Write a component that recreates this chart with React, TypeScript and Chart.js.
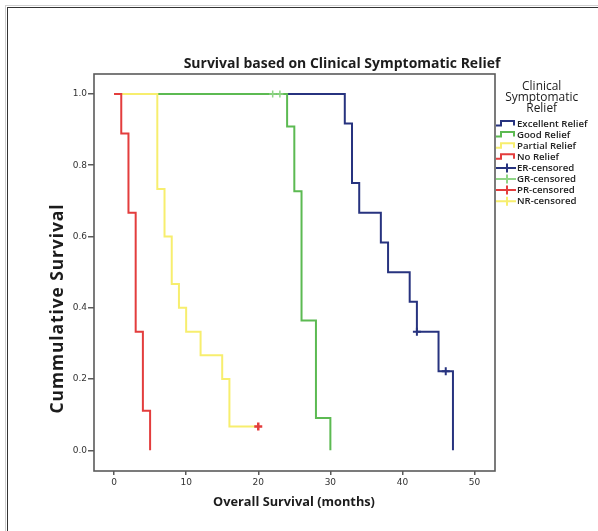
import React, { useEffect, useRef } from "react";
import { Chart, registerables } from "chart.js";

Chart.register(...registerables);

// ---- Data ----
const chartTitle = "Survival based on Clinical Symptomatic Relief";
const xTitle = "Overall Survival (months)";
const yTitle = "Cummulative Survival";
const legendTitle = ["Clinical", "Symptomatic", "Relief"];

const xTicks = [0, 10, 20, 30, 40, 50];
const yTicks = [0, 0.2, 0.4, 0.6, 0.8, 1.0];

const excellentTimes = [0, 32, 33, 34, 37, 38, 41, 42, 45, 47];
const excellentSurv = [1, 0.917, 0.75, 0.667, 0.583, 0.5, 0.417, 0.333, 0.222, 0];
const goodTimes = [0, 24, 25, 26, 28, 30];
const goodSurv = [1, 0.909, 0.727, 0.364, 0.091, 0];
const partialTimes = [0, 6, 7, 8, 9, 10, 12, 15, 16, 20];
const partialSurv = [1, 0.733, 0.6, 0.467, 0.4, 0.333, 0.267, 0.2, 0.067, 0.067];
const noTimes = [0, 1, 2, 3, 4, 5];
const noSurv = [1, 0.889, 0.667, 0.333, 0.111, 0];

const erCensTimes = [42, 46];
const erCensSurv = [0.333, 0.222];
const grCensTimes = [22, 23];
const grCensSurv = [1, 1];
const prCensTimes = [20];
const prCensSurv = [0.067];
const nrCensTimes: number[] = [];
const nrCensSurv: number[] = [];

const legendLabels = [
  "Excellent Relief",
  "Good Relief",
  "Partial Relief",
  "No Relief",
  "ER-censored",
  "GR-censored",
  "PR-censored",
  "NR-censored",
];

// ---- Styles ----
const NAVY = "#27337f";
const GREEN = "#5cba52";
const YELLOW = "#f7ee6e";
const RED = "#e33d3d";
const LIGHTGREEN = "#8fd486";
const legendColors = [NAVY, GREEN, YELLOW, RED, NAVY, LIGHTGREEN, RED, YELLOW];
const FONT = "'Open Sans', sans-serif";

const pts = (t: number[], s: number[]) => t.map((x, i) => ({ x, y: s[i] }));

function fitSize(ctx: CanvasRenderingContext2D, text: string, weight: string, target: number) {
  ctx.font = `${weight} 100px ${FONT}`;
  const w = ctx.measureText(text).width;
  return (100 * target) / w;
}

const decor = {
  id: "decor",
  beforeDraw(chart: any) {
    const ctx = chart.ctx as CanvasRenderingContext2D;
    ctx.save();
    ctx.fillStyle = "#fff";
    ctx.fillRect(0, 0, chart.width, chart.height);
    ctx.strokeStyle = "#cfcfcf";
    ctx.lineWidth = 1;
    ctx.strokeRect(5.5, 5.5, 900, 900);
    ctx.strokeStyle = "#333";
    ctx.strokeRect(7.5, 7.5, 900, 900);
    ctx.restore();
  },
  beforeDatasetsDraw(chart: any) {
    const ctx = chart.ctx as CanvasRenderingContext2D;
    const a = chart.chartArea;
    ctx.save();
    ctx.strokeStyle = "#5a5a5a";
    ctx.lineWidth = 1.6;
    ctx.strokeRect(a.left, a.top, a.right - a.left, a.bottom - a.top);
    ctx.restore();
  },
  afterDraw(chart: any) {
    const ctx = chart.ctx as CanvasRenderingContext2D;
    ctx.save();
    ctx.fillStyle = "#1c1c1c";
    // main title
    let s = fitSize(ctx, chartTitle, "bold", 317);
    ctx.font = `bold ${s}px ${FONT}`;
    ctx.textAlign = "center";
    ctx.textBaseline = "alphabetic";
    ctx.fillText(chartTitle, 342, 67.5);
    // x title
    s = fitSize(ctx, xTitle, "bold", 162);
    ctx.font = `bold ${s}px ${FONT}`;
    ctx.fillText(xTitle, 294, 506);
    // y title
    const ys = fitSize(ctx, yTitle, "bold", 192);
    ctx.font = `bold ${ys}px ${FONT}`;
    const baseW = ctx.measureText(yTitle).width;
    const spacing = Math.max(0, (209 - baseW) / (yTitle.length - 1));
    ctx.save();
    (ctx as any).letterSpacing = `${spacing}px`;
    ctx.translate(63, 413.5);
    ctx.rotate(-Math.PI / 2);
    ctx.textAlign = "left";
    ctx.fillText(yTitle, 0, 0);
    (ctx as any).letterSpacing = "0px";
    ctx.restore();
    // legend title
    s = fitSize(ctx, legendTitle[1], "normal", 73);
    ctx.font = `normal ${s}px ${FONT}`;
    ctx.textAlign = "center";
    legendTitle.forEach((t, i) => ctx.fillText(t, 541.7, 89.5 + i * 11.2));
    // legend items
    const ls = fitSize(ctx, legendLabels[0], "600", 70.6);
    ctx.font = `600 ${ls}px ${FONT}`;
    ctx.textAlign = "left";
    ctx.textBaseline = "middle";
    legendLabels.forEach((lab, i) => {
      const y = 123.5 + i * 11.1;
      ctx.strokeStyle = legendColors[i];
      ctx.lineWidth = 2;
      ctx.beginPath();
      if (i < 4) {
        ctx.moveTo(496, y + 2);
        ctx.lineTo(501, y + 2);
        ctx.lineTo(501, y - 2.5);
        ctx.lineTo(514, y - 2.5);
        ctx.lineTo(514, y + 2);
      } else {
        ctx.moveTo(496, y);
        ctx.lineTo(516, y);
        ctx.moveTo(507, y - 4.5);
        ctx.lineTo(507, y + 4.5);
      }
      ctx.stroke();
      ctx.fillStyle = "#222";
      ctx.fillText(lab, 517, y + 0.5);
    });
    ctx.restore();
  },
};

export default function App() {
  const ref = useRef<HTMLCanvasElement>(null);
  useEffect(() => {
    const canvas = ref.current!;
    const lineDs = (label: string, t: number[], s: number[], color: string, order: number) => ({
      type: "line" as const,
      label,
      data: pts(t, s),
      borderColor: color,
      backgroundColor: color,
      borderWidth: 2,
      stepped: "before" as const,
      pointRadius: 0,
      fill: false,
      order,
    });
    const censDs = (label: string, t: number[], s: number[], color: string, r: number, bw: number) => ({
      type: "line" as const,
      label,
      data: pts(t, s),
      showLine: false,
      borderColor: color,
      backgroundColor: color,
      pointStyle: "cross" as const,
      pointRadius: r,
      pointBorderWidth: bw,
      borderWidth: bw,
      order: 0,
    });
    const chart = new Chart(canvas, {
      type: "line",
      data: {
        datasets: [
          censDs("ER-censored", erCensTimes, erCensSurv, NAVY, 4, 2),
          censDs("GR-censored", grCensTimes, grCensSurv, LIGHTGREEN, 3.5, 1.5),
          censDs("PR-censored", prCensTimes, prCensSurv, RED, 4, 2.5),
          censDs("NR-censored", nrCensTimes, nrCensSurv, YELLOW, 4, 2),
          lineDs("No Relief", noTimes, noSurv, RED, 1),
          lineDs("Partial Relief", partialTimes, partialSurv, YELLOW, 2),
          lineDs("Good Relief", goodTimes, goodSurv, GREEN, 3),
          lineDs("Excellent Relief", excellentTimes, excellentSurv, NAVY, 4),
        ] as any,
      },
      options: {
        responsive: false,
        animation: false,
        events: [],
        layout: { padding: { top: 74, right: 103, left: 0, bottom: 0 } },
        plugins: { legend: { display: false }, tooltip: { enabled: false }, title: { display: false } },
        scales: {
          x: {
            type: "linear",
            min: -2.78,
            max: 52.83,
            afterBuildTicks: (sc: any) => {
              sc.ticks = xTicks.map((v) => ({ value: v }));
            },
            afterFit: (sc: any) => {
              sc.height = 60;
            },
            grid: { display: true, drawOnChartArea: false, drawTicks: true, tickLength: 4, color: "#5a5a5a", lineWidth: 1.5 },
            border: { display: false },
            ticks: {
              padding: 2,
              color: "#333",
              font: { family: "'DejaVu Sans'", size: 9 },
              callback: (v: any) => String(v),
              maxRotation: 0,
              autoSkip: false,
            },
          },
          y: {
            type: "linear",
            min: -0.058,
            max: 1.056,
            afterBuildTicks: (sc: any) => {
              sc.ticks = yTicks.map((v) => ({ value: v }));
            },
            afterFit: (sc: any) => {
              sc.width = 94;
            },
            grid: { display: true, drawOnChartArea: false, drawTicks: true, tickLength: 6, color: "#5a5a5a", lineWidth: 1.5 },
            border: { display: false },
            ticks: {
              padding: 1,
              color: "#333",
              font: { family: "'DejaVu Sans'", size: 9 },
              callback: (v: any) => Number(v).toFixed(1),
              autoSkip: false,
            },
          },
        },
      },
      plugins: [decor],
    });
    return () => chart.destroy();
  }, []);
  return (
    <div style={{ position: "fixed", left: 0, top: 0, width: 598, height: 531, background: "#fff" }}>
      <canvas ref={ref} width={598} height={531} style={{ display: "block", width: 598, height: 531 }} />
    </div>
  );
}
